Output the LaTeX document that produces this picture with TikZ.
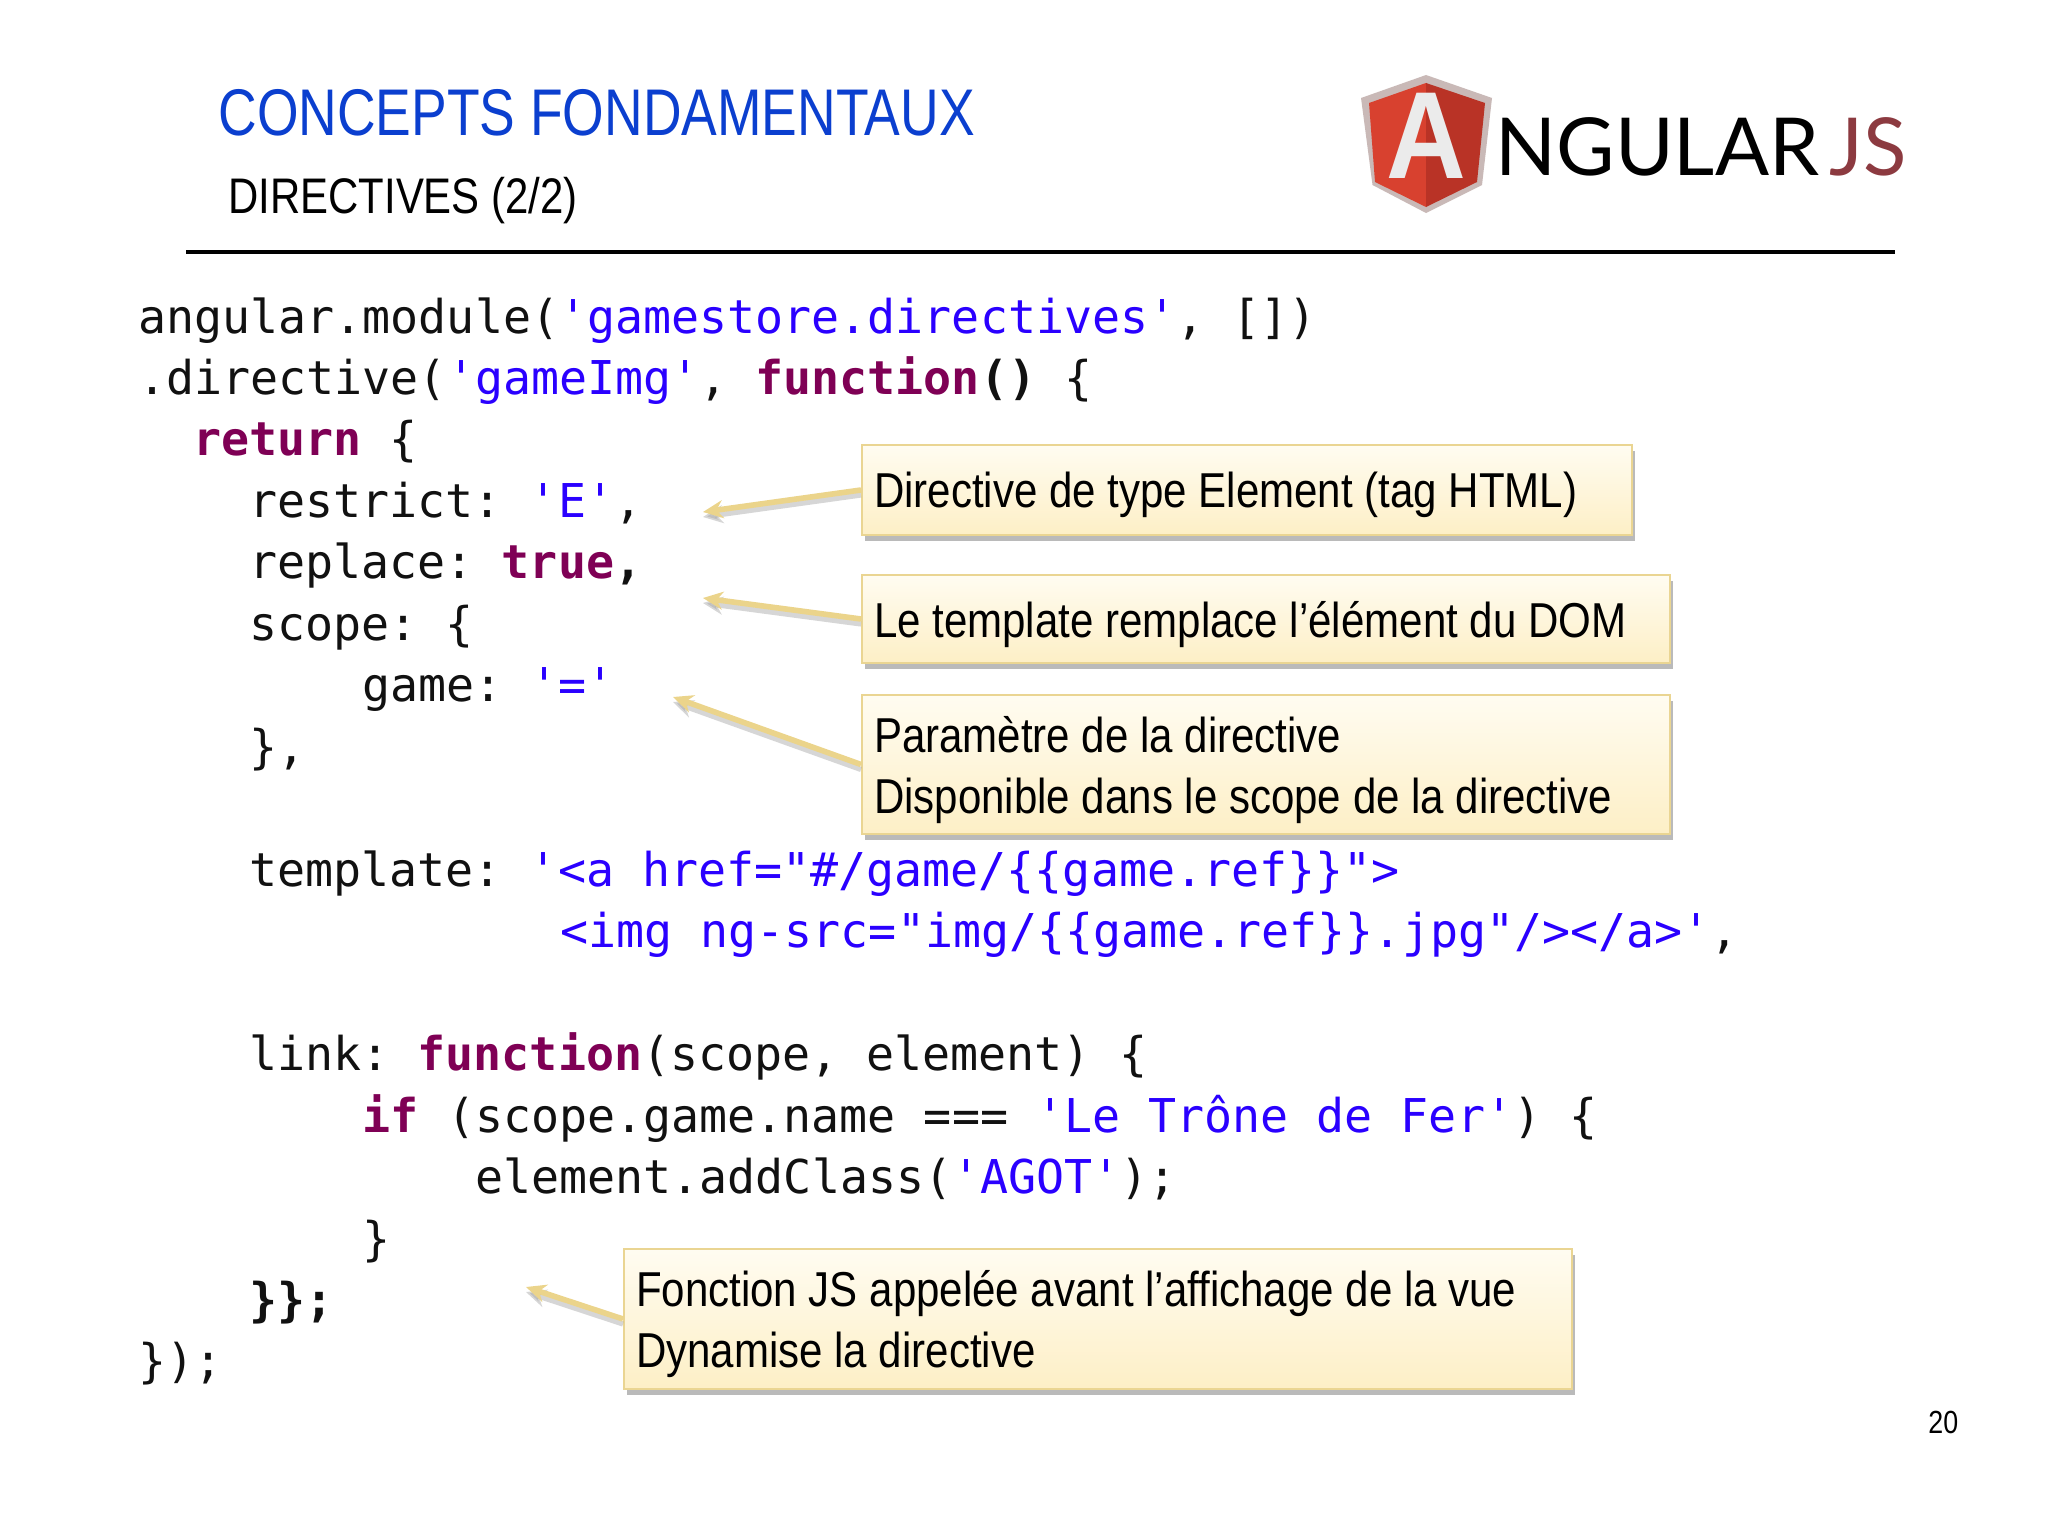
\documentclass[tikz,border=0pt]{standalone}
\usepackage{fontspec}
\usetikzlibrary{shadows,arrows.meta}
\setmainfont{Liberation Sans}
\setmonofont{DejaVu Sans Mono}
\newfontfamily\titlef[FakeStretch=0.81]{Liberation Sans}
\newfontfamily\subf[FakeStretch=0.838]{Liberation Sans}
\newfontfamily\narrowf[FakeStretch=0.858]{Liberation Sans}
\newfontfamily\shieldf[FakeStretch=0.89]{Liberation Sans}
\newfontfamily\logof{Lato}
\definecolor{titleblue}{HTML}{0B3FCF}
\definecolor{kwcol}{HTML}{7F0055}
\definecolor{strcol}{HTML}{2A00FF}
\definecolor{calloutline}{HTML}{EAD592}
\definecolor{calloutarrow}{HTML}{EBD48B}
\definecolor{codeink}{HTML}{111111}
\definecolor{boxtop}{HTML}{FFFCF1}
\definecolor{boxbot}{HTML}{FDEFC6}
\definecolor{shieldrim}{HTML}{C9B9B7}
\definecolor{shieldL}{HTML}{D8412F}
\definecolor{shieldR}{HTML}{B93326}
\definecolor{jscol}{HTML}{8C3A40}
\newcommand{\kw}[1]{\textcolor{kwcol}{\textbf{#1}}}
\newcommand{\str}[1]{\textcolor{strcol}{#1}}
\tikzset{
  x=0.5pt,y=-0.5pt,
  codeline/.style={anchor=base west,inner sep=0pt,text=codeink,font=\ttfamily\fontsize{23.3}{28}\selectfont},
  callout/.style={anchor=north west,draw=calloutline,line width=1pt,top color=boxtop,bottom color=boxbot,
    inner xsep=6pt,inner ysep=0pt,align=flush left,font=\narrowf\fontsize{24.5}{30.5}\selectfont,text=black,
    drop shadow={shadow xshift=1.5pt,shadow yshift=-3pt,fill=black!45,opacity=.6}},
  oneline/.style={text depth=0pt},
  twolines/.style={text depth=30.5pt},
  pointer/.style={draw=calloutarrow,line width=2.8pt,-{Stealth[length=10pt,width=9pt]}},
  pointershade/.style={draw=black!35,opacity=.45,line width=2.6pt,-{Stealth[length=10pt,width=9pt]}},
}
\begin{document}
\begin{tikzpicture}
\useasboundingbox (0,0) rectangle (2048,1536);
\fill[white] (0,0) rectangle (2048,1536);
% header
\node[anchor=base west,inner sep=0pt,text=titleblue,font=\titlef\fontsize{33}{36}\selectfont] (title) at (218,135) {CONCEPTS FONDAMENTAUX};
\node[anchor=base west,inner sep=0pt,text=black,font=\subf\fontsize{25}{30}\selectfont] (subtitle) at (228,213) {DIRECTIVES (2/2)};
\coordinate (ruleL) at (186,252);
\coordinate (ruleR) at (1895,252);
\draw[line width=2pt,black] (ruleL) -- (ruleR);
% logo
\fill[shieldrim] (1426,75) -- (1492,98) -- (1482,185) -- (1426,213) -- (1372.5,185) -- (1361,98) -- cycle;
\fill[shieldL] (1426,83) -- (1426,207) -- (1375,182) -- (1369,103) -- cycle;
\fill[shieldR] (1426,83) -- (1485,103) -- (1477,182) -- (1426,207) -- cycle;
\node[anchor=base,inner sep=0pt,text=black!8,font=\shieldf\bfseries\fontsize{62}{62}\selectfont] (logoA) at (1426,178) {A};
\node[anchor=base west,inner sep=0pt,text=black,font=\logof\fontsize{40}{40}\selectfont] (logoN) at (1495,175) {NGULAR};
\node[anchor=base west,inner sep=0pt,text=jscol,font=\logof\fontsize{40}{40}\selectfont] (logoJ) at (1829,175) {JS};
% code
\node[codeline] (c1) at (138,333) {angular.module(\str{'gamestore.directives'}, [])};
\node[codeline] (c2) at (138,394.4) {.directive(\str{'gameImg'}, \kw{function}\textbf{()} \{};
\node[codeline] (c3) at (193,455.8) {\kw{return} \{};
\node[codeline] (c4) at (249,517.3) {restrict: \str{'E'},};
\node[codeline] (c5) at (249,578.8) {replace: \kw{true}\textbf{,}};
\node[codeline] (c6) at (249,640.3) {scope: \{};
\node[codeline] (c7) at (362,701.7) {game: \str{'='}};
\node[codeline] (c8) at (249,763.2) {\},};
\node[codeline] (c10) at (249,886.1) {template: \str{'<a href="\#/game/\{\{game.ref\}\}">}};
\node[codeline] (c11) at (560,947.6) {\str{<img ng-src="img/\{\{game.ref\}\}.jpg"/></a>'},};
\node[codeline] (c13) at (249,1070.5) {link: \kw{function}(scope, element) \{};
\node[codeline] (c14) at (362.5,1132) {\kw{if} (scope.game.name === \str{'Le Trône de Fer'}) \{};
\node[codeline] (c15) at (475,1193.5) {element.addClass(\str{'AGOT'});};
\node[codeline] (c16) at (362.5,1255) {\}};
\node[codeline] (c17) at (249,1316.4) {\textbf{\}\};}};
\node[codeline] (c18) at (138,1377.9) {\});};
% callouts
\coordinate (e1) at (703,512);
\coordinate (e2) at (703,598);
\coordinate (e3) at (673,697);
\coordinate (e4) at (526,1287);
\node[callout,oneline,text width=373pt,minimum height=45pt] (b1) at (861,444) {Directive de type Element (tag HTML)};
\node[callout,oneline,text width=392pt,minimum height=44pt] (b2) at (861,574) {Le template remplace l’élément du DOM};
\node[callout,twolines,text width=392pt,minimum height=69.5pt] (b3) at (861,694) {Paramètre de la directive\\Disponible dans le scope de la directive};
\node[callout,twolines,text width=462pt,minimum height=70pt] (b4) at (623,1248) {Fonction JS appelée avant l’affichage de la vue\\Dynamise la directive};
\foreach \b/\e in {b1/e1,b2/e2,b3/e3,b4/e4}{
  \draw[pointershade,transform canvas={yshift=-2.5pt}] (\b.west) -- (\e);
  \draw[pointer] (\b.west) -- (\e);
}
\node[anchor=base west,inner sep=0pt,text=black,font=\subf\fontsize{16}{18}\selectfont] (page) at (1928,1433) {20};
\end{tikzpicture}
\end{document}
